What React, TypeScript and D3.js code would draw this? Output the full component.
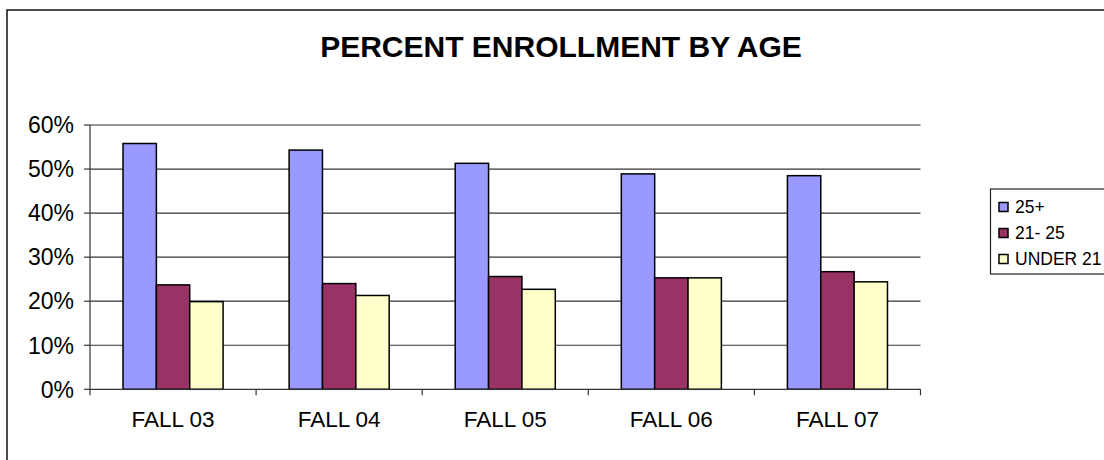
import React from 'react';
import * as d3 from 'd3';

// values (percent)
const categories = ['FALL 03', 'FALL 04', 'FALL 05', 'FALL 06', 'FALL 07'];
const seriesNames = ['25+', '21- 25', 'UNDER 21'];
const age25Plus = [55.8, 54.3, 51.3, 48.9, 48.5];
const age21to25 = [23.7, 24.0, 25.6, 25.3, 26.7];
const under21 = [19.9, 21.3, 22.7, 25.3, 24.4];
const yTicks = [0, 10, 20, 30, 40, 50, 60];

const colors = ['#9999FF', '#993366', '#FFFFCC'];
const FONT = 'Liberation Sans, Arial, sans-serif';

const width = 1104;
const height = 460;
const plot = { left: 90, right: 920.5, top: 125, bottom: 389.3 };

const App = () => {
  const series = [age25Plus, age21to25, under21];

  const x = d3.scaleBand()
    .domain(categories)
    .range([plot.left, plot.right])
    .padding(0);

  const xInner = d3.scaleBand()
    .domain(seriesNames)
    .range([0, x.bandwidth()])
    .paddingInner(0)
    .paddingOuter(0.99);

  const y = d3.scaleLinear()
    .domain([0, 60])
    .range([plot.bottom, plot.top]);

  const fmt = (d) => `${d}%`;

  return (
    <svg width={width} height={height} viewBox={`0 0 ${width} ${height}`}
      style={{ position: 'absolute', left: 0, top: 0, background: 'white' }}>
      {/* outer chart frame, runs past the crop on the right/bottom */}
      <rect x={7} y={10} width={1200} height={500} fill="white" stroke="#111" strokeWidth={1.5} />

      <text x={561} y={57} textAnchor="middle" fontFamily={FONT} fontWeight="bold" fontSize={30} fill="#000">
        PERCENT ENROLLMENT BY AGE
      </text>

      {/* grid lines */}
      {yTicks.filter(t => t > 0).map(t => (
        <line key={t} x1={plot.left} x2={plot.right} y1={y(t)} y2={y(t)} stroke="#333" strokeWidth={1.2} />
      ))}

      {/* bars */}
      {categories.map((c, i) => (
        <g key={c} transform={`translate(${x(c)},0)`}>
          {seriesNames.map((s, j) => (
            <rect key={s}
              x={xInner(s)}
              y={y(series[j][i])}
              width={xInner.bandwidth()}
              height={y(0) - y(series[j][i])}
              fill={colors[j]}
              stroke="#000"
              strokeWidth={1.5} />
          ))}
        </g>
      ))}

      {/* y axis */}
      <line x1={plot.left} x2={plot.left} y1={plot.top} y2={plot.bottom} stroke="#333" strokeWidth={1.2} />
      {yTicks.map(t => (
        <g key={t}>
          <line x1={plot.left - 6} x2={plot.left} y1={y(t)} y2={y(t)} stroke="#333" strokeWidth={1.2} />
          <text x={74} y={y(t)} dy="0.36em" textAnchor="end" fontFamily={FONT} fontSize={23} fill="#000">
            {fmt(t)}
          </text>
        </g>
      ))}

      {/* x axis */}
      <line x1={plot.left} x2={plot.right} y1={plot.bottom} y2={plot.bottom} stroke="#333" strokeWidth={1.2} />
      {[...categories.map(c => x(c)), plot.right].map((px, i) => (
        <line key={i} x1={px} x2={px} y1={plot.bottom} y2={plot.bottom + 6} stroke="#333" strokeWidth={1.2} />
      ))}
      {categories.map(c => (
        <text key={c} x={x(c) + x.bandwidth() / 2} y={427} textAnchor="middle" fontFamily={FONT} fontSize={22.5} fill="#000">
          {c}
        </text>
      ))}

      {/* legend */}
      <rect x={990.5} y={189} width={140} height={85} fill="white" stroke="#222" strokeWidth={1.2} />
      {seriesNames.map((s, j) => (
        <g key={s} transform={`translate(999,${207 + j * 26})`}>
          <rect x={0} y={-4.5} width={9} height={9} fill={colors[j]} stroke="#000" strokeWidth={1.5} />
          <text x={16} y={0} dy="0.36em" fontFamily={FONT} fontSize={17.5} fill="#000">{s}</text>
        </g>
      ))}
    </svg>
  );
};

export default App;
